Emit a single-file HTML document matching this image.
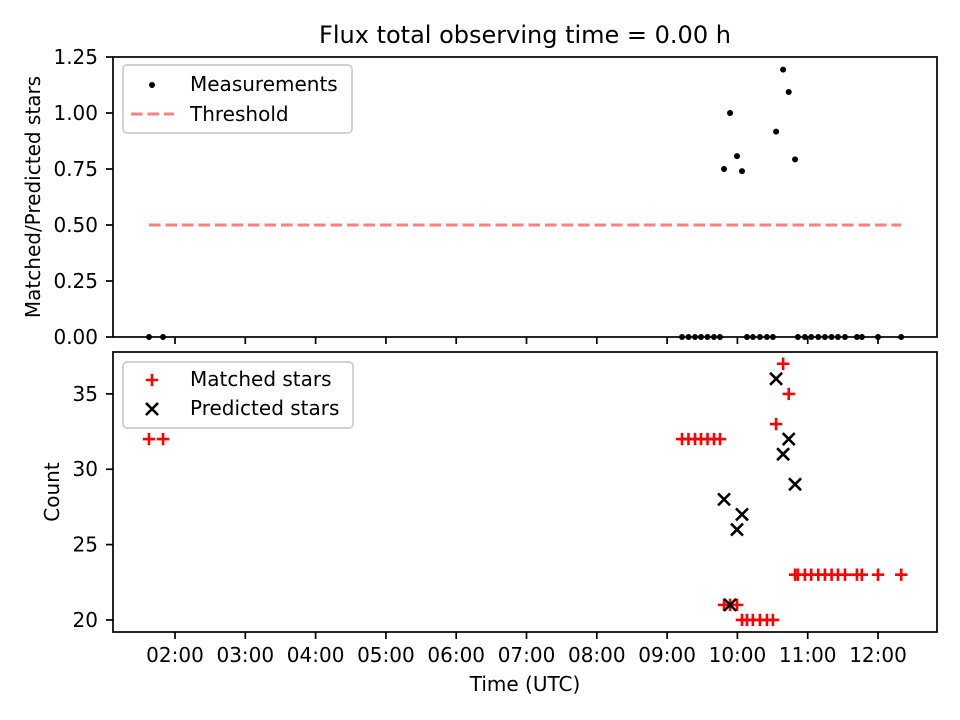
<!DOCTYPE html>
<html><head><meta charset="utf-8">
<style>
body{margin:0;background:#fff;}
svg{display:block;font-family:"DejaVu Sans","Liberation Sans",sans-serif;}
</style></head>
<body>
<svg id="chart" width="960" height="720" viewBox="0 0 960 720">
<rect width="960" height="720" fill="#fff"/>
<text x="525" y="43" font-size="24" text-anchor="middle">Flux total observing time = 0.00 h</text>
<g id="top"></g>
<g id="bot"></g>
</svg>
<script>
// data (times in decimal hours UTC)
const times = [1.63,1.83,9.212,9.304,9.397,9.482,9.575,9.667,9.752,9.81,9.895,9.994,10.065,10.136,10.22,10.32,10.42,10.505,10.55,10.65,10.73,10.82,10.86,10.96,11.05,11.15,11.245,11.34,11.43,11.53,11.70,11.77,12.0,12.33];
const matched = [32,32,32,32,32,32,32,32,32,21,21,21,20,20,20,20,20,20,33,37,35,23,23,23,23,23,23,23,23,23,23,23,23,23];
const predicted = [null,null,null,null,null,null,null,null,null,28,21,26,27,null,null,null,null,null,36,31,32,29,null,null,null,null,null,null,null,null,null,null,null,null];
const threshold = 0.5;
const xTicks = [2,3,4,5,6,7,8,9,10,11,12];
const xTickLabels = ["02:00","03:00","04:00","05:00","06:00","07:00","08:00","09:00","10:00","11:00","12:00"];
const topTicks = [0,0.25,0.5,0.75,1.0,1.25];
const topTickLabels = ["0.00","0.25","0.50","0.75","1.00","1.25"];
const botTicks = [20,25,30,35];

const NS="http://www.w3.org/2000/svg";
const L=113,R=937;
const xMin=1.118,xMax=12.839;
const X=t=>L+(t-xMin)/(xMax-xMin)*(R-L);
const T={top:57,bot:337,min:0,max:1.25};
const B={top:352,bot:632,min:19.2,max:37.78};
const YT=v=>T.bot-(v-T.min)/(T.max-T.min)*(T.bot-T.top);
const YB=v=>B.bot-(v-B.min)/(B.max-B.min)*(B.bot-B.top);
function mk(parent,tag,attrs,text){const e=document.createElementNS(NS,tag);for(const k in attrs)e.setAttribute(k,attrs[k]);if(text!==undefined)e.textContent=text;parent.appendChild(e);return e;}
const gt=document.getElementById('top'),gb=document.getElementById('bot');

const tl=Math.min(...times),tr=Math.max(...times);
let th=mk(gt,'line',{x1:X(tl),x2:X(tr),y1:YT(threshold),y2:YT(threshold),stroke:'#ff7f7f','stroke-width':3,'stroke-dasharray':'11.5,5'});


times.forEach((t,i)=>{
  const p=predicted[i];
  const r=(p===null)?0:matched[i]/p;
  const c=mk(gt,'circle',{cx:X(t),cy:YT(r),r:3,fill:'#000'});
  
  
});
times.forEach((t,i)=>{
  const x=X(t),y=YB(matched[i]);
  const g=mk(gb,'path',{d:`M${x-6.2},${y}H${x+6.2}M${x},${y-6.2}V${y+6.2}`,stroke:'#f00','stroke-width':2.6});
  
  
});
times.forEach((t,i)=>{
  if(predicted[i]===null)return;
  const x=X(t),y=YB(predicted[i]);
  const g=mk(gb,'path',{d:`M${x-6},${y-6}L${x+6},${y+6}M${x-6},${y+6}L${x+6},${y-6}`,stroke:'#000','stroke-width':2.6});
  
  
});

function frame(g,P){
  mk(g,'rect',{x:L,y:P.top,width:R-L,height:P.bot-P.top,fill:'none',stroke:'#000','stroke-width':1.7});
  xTicks.forEach((t,i)=>{
    mk(g,'line',{x1:X(t),x2:X(t),y1:P.bot,y2:P.bot+7,stroke:'#000','stroke-width':1.7});
  });
}
frame(gt,T);frame(gb,B);
xTicks.forEach((t,i)=>{
  const e=mk(gb,'text',{x:X(t),y:B.bot+30,'font-size':20,'text-anchor':'middle'},xTickLabels[i]);
  
  
});
topTicks.forEach((v,i)=>{
  mk(gt,'line',{x1:L-7,x2:L,y1:YT(v),y2:YT(v),stroke:'#000','stroke-width':1.7});
  const e=mk(gt,'text',{x:L-15,y:YT(v)+7,'font-size':20,'text-anchor':'end'},topTickLabels[i]);
  
  
});
botTicks.forEach(v=>{
  mk(gb,'line',{x1:L-7,x2:L,y1:YB(v),y2:YB(v),stroke:'#000','stroke-width':1.7});
  const e=mk(gb,'text',{x:L-15,y:YB(v)+7,'font-size':20,'text-anchor':'end'},String(v));
  
  
});
</script>
<script>
const s=document.getElementById('chart');
s.insertAdjacentHTML('beforeend',`
<text x="525" y="691" font-size="20" text-anchor="middle">Time (UTC)</text>
<text transform="translate(40,197) rotate(-90)" font-size="20" text-anchor="middle">Matched/Predicted stars</text>
<text transform="translate(59,492) rotate(-90)" font-size="20" text-anchor="middle">Count</text>
<g>
<rect x="123" y="65" width="229" height="68" rx="4" fill="#fff" fill-opacity="0.8" stroke="#ccc" stroke-width="1.7"/>
<circle cx="152" cy="85" r="3" fill="#000"/>
<text x="190" y="91" font-size="20">Measurements</text>
<line x1="131" x2="174" y1="114" y2="114" stroke="#ff7f7f" stroke-width="3" stroke-dasharray="11.5,5"/>
<text x="190" y="121" font-size="20">Threshold</text>
</g>
<g>
<rect x="123" y="362" width="230" height="66" rx="4" fill="#fff" fill-opacity="0.8" stroke="#ccc" stroke-width="1.7"/>
<path d="M145.8,380H158.2M152,373.8V386.2" stroke="#f00" stroke-width="2.6"/>
<text x="190" y="386" font-size="20">Matched stars</text>
<path d="M146,403L158,415M146,415L158,403" stroke="#000" stroke-width="2.6"/>
<text x="190" y="415" font-size="20">Predicted stars</text>
</g>`);
</script>
</body></html>
